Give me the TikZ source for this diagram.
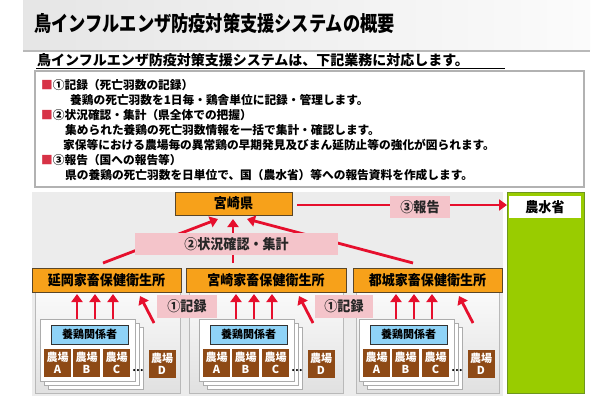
\documentclass[tikz,border=0pt]{standalone}
\usepackage{fontspec}
\setmainfont{Noto Sans CJK JP}
\newfontfamily\titlefont{Noto Sans CJK JP}[FakeStretch=0.82]
\newfontfamily\lblfont{Noto Sans CJK JP}[FakeStretch=0.93]
\usetikzlibrary{arrows.meta}
\definecolor{orangeb}{RGB}{247,161,26}
\definecolor{orbd}{RGB}{90,70,40}
\definecolor{redb}{RGB}{230,15,45}
\definecolor{pinkb}{RGB}{244,196,202}
\definecolor{blueb}{RGB}{143,211,247}
\definecolor{brownb}{RGB}{142,74,22}
\definecolor{greenb}{RGB}{153,204,0}
\definecolor{greenbd}{RGB}{110,150,30}
\definecolor{bullet}{RGB}{215,50,70}
\begin{document}
\begin{tikzpicture}[x=1pt,y=-1pt,
  ob/.style={draw=orbd, fill=orangeb, line width=0.8pt, inner sep=0pt,
    font=\lblfont\bfseries\fontsize{14}{14}\selectfont},
  pinkl/.style={fill=pinkb, inner sep=0pt, text=black!85,
    font=\lblfont\bfseries\fontsize{14}{14}\selectfont},
  arr/.style={draw=redb, line width=2.8pt, -{Triangle[width=11pt,length=8pt]}},
  sarr/.style={draw=redb, line width=2.8pt, -{Triangle[width=11pt,length=8pt]}},
  card/.style={draw=gray!65, fill=white, line width=0.8pt, inner sep=0pt,
    minimum width=95pt, minimum height=62pt},
  farm/.style={fill=brownb, text=white, inner sep=0pt, align=center,
    minimum width=27pt, minimum height=28pt,
    font=\bfseries\fontsize{11}{12.5}\selectfont},
  boxtxt/.style={anchor=west, inner sep=0pt, font=\bfseries\fontsize{11.7}{12}\selectfont},
  subpanel/.style={draw=gray!55, line width=0.8pt, top color=gray!4, bottom color=gray!24}
]
\useasboundingbox (0,0) rectangle (610,400);
% title band
\shade[left color=gray!20, right color=gray!3] (23,0) rectangle (590,50);
\draw[gray!55, line width=1.2pt] (23,51) -- (590,51);
\node[anchor=west, inner sep=0pt, font=\titlefont\bfseries\fontsize{21}{21}\selectfont] (title) at (34,23) {鳥インフルエンザ防疫対策支援システムの概要};
% subtitle
\node[anchor=west, inner sep=0pt, font=\bfseries\fontsize{14}{14}\selectfont] (sub) at (37,60) {鳥インフルエンザ防疫対策支援システムは、下記業務に対応します。};
\draw[black, line width=1pt] (36,68) -- (505,68);
% text box
\draw[gray!60, fill=white, line width=1.5pt] (35,71) rectangle (584,187);
\node[boxtxt] (l1) at (41,85) {\textcolor{bullet}{■}①記録（死亡羽数の記録）};
\node[boxtxt] (l2) at (70,100) {養鶏の死亡羽数を1日毎・鶏舎単位に記録・管理します。};
\node[boxtxt] (l3) at (41,115) {\textcolor{bullet}{■}②状況確認・集計（県全体での把握）};
\node[boxtxt] (l4) at (65,130) {集められた養鶏の死亡羽数情報を一括で集計・確認します。};
\node[boxtxt] (l5) at (63,145) {家保等における農場毎の異常鶏の早期発見及びまん延防止等の強化が図られます。};
\node[boxtxt] (l6) at (41,160) {\textcolor{bullet}{■}③報告（国への報告等）};
\node[boxtxt] (l7) at (65,175) {県の養鶏の死亡羽数を日単位で、国（農水省）等への報告資料を作成します。};
% panels
\fill[gray!15] (32,192) rectangle (503,396);
\draw[greenbd, fill=greenb, line width=0.8pt] (507,192) rectangle (584,393);
\node[fill=white, inner sep=0pt, minimum width=72pt, minimum height=22pt,
  font=\lblfont\bfseries\fontsize{14}{14}\selectfont] (maff) at (545,207) {農水省};
\draw[subpanel] (35,292) rectangle (180,393);
\draw[subpanel] (189,292) rectangle (343,393);
\draw[subpanel] (356,292) rectangle (499,393);
% offices
\node[ob, minimum width=117pt, minimum height=23pt] (ken) at (233.5,203.5) {宮崎県};
\node[ob, minimum width=149pt, minimum height=24pt] (nob) at (106.5,280) {延岡家畜保健衛生所};
\node[ob, minimum width=160pt, minimum height=24pt] (miy) at (266,280) {宮崎家畜保健衛生所};
\node[ob, minimum width=149pt, minimum height=24pt] (mkj) at (427.5,280) {都城家畜保健衛生所};
% top arrows
\coordinate (s1) at (103,263); \coordinate (t1) at (218,219);
\coordinate (s2) at (233,263); \coordinate (t2) at (233,219);
\coordinate (s3) at (413,263); \coordinate (t3) at (247,219);
\draw[arr] (s1) -- (t1);
\draw[arr] (s2) -- (t2);
\draw[arr] (s3) -- (t3);
\node[pinkl, minimum width=203pt, minimum height=22pt] (agg) at (236.5,244) {②状況確認・集計};
% report arrow
\coordinate (r1) at (297,205);
\coordinate (r2) at (507,205);
\draw[arr] (r1) -- (r2);
\node[pinkl, minimum width=60pt, minimum height=22pt] (rep) at (420,207) {③報告};
% farm groups
\foreach \o/\g in {0/a,159/b,319/c}{
  \foreach \x/\k in {77/1,95/2,113/3}{
    \coordinate (fs\g\k) at (\x+\o,319);
    \coordinate (ft\g\k) at (\x+\o,294);
    \draw[sarr] (fs\g\k) -- (ft\g\k);
  }
  \coordinate (ds\g) at (154+\o,323);
  \coordinate (dt\g) at (140+\o,296);
  \draw[sarr] (ds\g) -- (dt\g);
  \node[card] (cardc\g) at (95.5+\o,358) {};
  \node[card] (cardb\g) at (91.5+\o,354) {};
  \node[card] (carda\g) at (87.5+\o,350) {};
  \node[draw=black!80, fill=blueb, inner sep=0pt, minimum width=77pt, minimum height=19pt,
    font=\bfseries\fontsize{11}{11}\selectfont] (rel\g) at (89.5+\o,334.5) {養鶏関係者};
  \node[farm] (fa\g) at (57.5+\o,363) {農場\\A};
  \node[farm] (fb\g) at (86.5+\o,363) {農場\\B};
  \node[farm] (fc\g) at (116.5+\o,363) {農場\\C};
  \node[inner sep=0pt, font=\bfseries\fontsize{10}{10}\selectfont] (dots\g) at (138+\o,371) {…};
  \node[farm] (fd\g) at (162+\o,364) {農場\\D};
}
\node[pinkl, minimum width=60pt, minimum height=23pt] (rec1) at (187,306.5) {①記録};
\node[pinkl, minimum width=58pt, minimum height=23pt] (rec2) at (344,306.5) {①記録};
\end{tikzpicture}
\end{document}
